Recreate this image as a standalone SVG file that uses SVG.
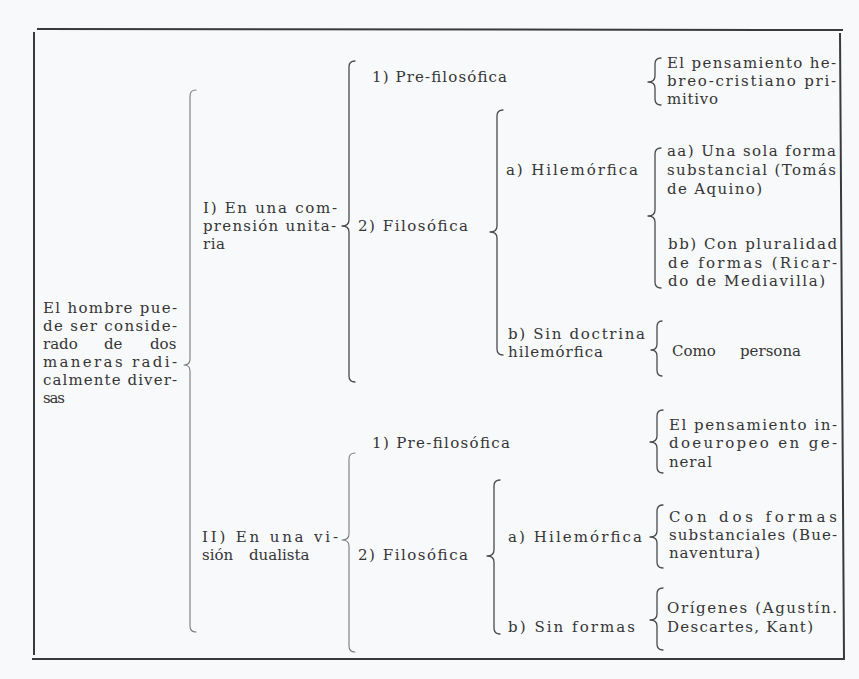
<svg xmlns="http://www.w3.org/2000/svg" width="859" height="679" viewBox="0 0 859 679">
<style>
text{font-family:"DejaVu Serif","Liberation Serif","Times New Roman",serif;font-size:15px;fill:#353535}
.br{fill:none;stroke:#4a4a4a;stroke-width:1.3;stroke-linecap:round;stroke-linejoin:round}
.faint{stroke:#7a7a7a;stroke-width:1.1}
.frame{fill:none;stroke:#3a3a3a;stroke-width:2}
</style>
<rect width="859" height="679" fill="#f8f9fb"/>
<g id="frame">
<path class="frame" d="M37,29 L843,30 M34,32 L34,655 M32,659 L845,659 M840,33 L844,658"/>
</g>
<g id="connectors">
<path class="br faint" d="M196,90 Q190,90 190,96 L190,359 Q190,365 184,365 Q190,365 190,371 L190,626 Q190,632 196,632"/>
<path class="br" d="M355,61 Q349,61 349,67 L349,220 Q349,226 342,226 Q349,226 349,232 L349,376 Q349,382 355,382"/>
<path class="br" d="M503,110 Q497,110 497,116 L497,226 Q497,232 490,232 Q497,232 497,238 L497,349 Q497,355 503,355"/>
<path class="br" d="M661,58 Q655,58 655,64 L655,76 Q655,82 648,82 Q655,82 655,88 L655,99 Q655,105 661,105"/>
<path class="br" d="M661,148 Q655,148 655,154 L655,210 Q655,216 648,216 Q655,216 655,222 L655,282 Q655,288 661,288"/>
<path class="br" d="M662,321 Q657,321 657,327 L657,344 Q657,350 651,350 Q657,350 657,356 L657,370 Q657,376 662,376"/>
<path class="br" d="M663,410 Q657,410 657,416 L657,436 Q657,442 650,442 Q657,442 657,448 L657,467 Q657,473 663,473"/>
<path class="br faint" d="M355,453 Q349,453 349,459 L349,534 Q349,540 342,540 Q349,540 349,546 L349,646 Q349,652 355,652"/>
<path class="br" d="M500,480 Q494,480 494,486 L494,550 Q494,556 487,556 Q494,556 494,562 L494,628 Q494,634 500,634"/>
<path class="br" d="M663,505 Q657,505 657,511 L657,531 Q657,537 650,537 Q657,537 657,543 L657,562 Q657,568 663,568"/>
<path class="br" d="M663,588 Q657,588 657,594 L657,614 Q657,620 650,620 Q657,620 657,626 L657,644 Q657,650 663,650"/>
</g>
<g id="root">
<text x="43" y="313" textLength="134" lengthAdjust="spacing">El hombre pue-</text>
<text x="43" y="331" textLength="134" lengthAdjust="spacing">de ser conside-</text>
<text y="349"><tspan x="43">rado </tspan><tspan x="104">de </tspan><tspan x="150">dos</tspan></text>
<text x="43" y="367" textLength="134" lengthAdjust="spacing">maneras radi-</text>
<text x="43" y="385" textLength="134" lengthAdjust="spacing">calmente diver-</text>
<text x="43" y="403" textLength="22" lengthAdjust="spacing">sas</text>
</g>
<g id="n-I">
<text x="203" y="213" textLength="134" lengthAdjust="spacing">I) En una com-</text>
<text x="203" y="231" textLength="133" lengthAdjust="spacing">prensión unita-</text>
<text x="203" y="249" textLength="22" lengthAdjust="spacing">ria</text>
</g>
<g id="n-II">
<text x="202" y="542" textLength="136" lengthAdjust="spacing">II) En una vi-</text>
<text y="560"><tspan x="202">sión </tspan><tspan x="249">dualista</tspan></text>
</g>
<g id="n-I-1">
<text x="372" y="82" textLength="135" lengthAdjust="spacing">1) Pre-filosófica</text>
</g>
<g id="n-I-1-a">
<text x="667" y="68" textLength="169" lengthAdjust="spacing">El pensamiento he-</text>
<text x="667" y="86" textLength="169" lengthAdjust="spacing">breo-cristiano pri-</text>
<text x="667" y="104" textLength="51" lengthAdjust="spacing">mitivo</text>
</g>
<g id="n-I-2">
<text x="358" y="231" textLength="110" lengthAdjust="spacing">2) Filosófica</text>
</g>
<g id="n-I-2-a">
<text x="506" y="175" textLength="132" lengthAdjust="spacing">a) Hilemórfica</text>
</g>
<g id="n-aa">
<text x="667" y="156" textLength="169" lengthAdjust="spacing">aa) Una sola forma</text>
<text x="667" y="175" textLength="169" lengthAdjust="spacing">substancial (Tomás</text>
<text x="667" y="194" textLength="95" lengthAdjust="spacing">de Aquino)</text>
</g>
<g id="n-bb">
<text x="668" y="249" textLength="169" lengthAdjust="spacing">bb) Con pluralidad</text>
<text x="668" y="268" textLength="169" lengthAdjust="spacing">de formas (Ricar-</text>
<text x="668" y="286" textLength="157" lengthAdjust="spacing">do de Mediavilla)</text>
</g>
<g id="n-I-2-b">
<text x="508" y="339" textLength="137" lengthAdjust="spacing">b) Sin doctrina</text>
<text x="508" y="357" textLength="95" lengthAdjust="spacing">hilemórfica</text>
</g>
<g id="n-persona">
<text y="356"><tspan x="672">Como </tspan><tspan x="740">persona</tspan></text>
</g>
<g id="n-II-1">
<text x="372" y="448" textLength="138" lengthAdjust="spacing">1) Pre-filosófica</text>
</g>
<g id="n-II-1-a">
<text x="669" y="430" textLength="168" lengthAdjust="spacing">El pensamiento in-</text>
<text x="669" y="448" textLength="168" lengthAdjust="spacing">doeuropeo en ge-</text>
<text x="669" y="467" textLength="43" lengthAdjust="spacing">neral</text>
</g>
<g id="n-II-2">
<text x="358" y="560" textLength="110" lengthAdjust="spacing">2) Filosófica</text>
</g>
<g id="n-II-2-a">
<text x="508" y="542" textLength="134" lengthAdjust="spacing">a) Hilemórfica</text>
</g>
<g id="n-dos-formas">
<text x="669" y="522" textLength="168" lengthAdjust="spacing">Con dos formas</text>
<text x="669" y="540" textLength="168" lengthAdjust="spacing">substanciales (Bue-</text>
<text x="669" y="558" textLength="91" lengthAdjust="spacing">naventura)</text>
</g>
<g id="n-II-2-b">
<text x="508" y="632" textLength="127" lengthAdjust="spacing">b) Sin formas</text>
</g>
<g id="n-origenes">
<text x="667" y="613" textLength="170" lengthAdjust="spacing">Orígenes (Agustín.</text>
<text x="667" y="632" textLength="146" lengthAdjust="spacing">Descartes, Kant)</text>
</g>
</svg>
